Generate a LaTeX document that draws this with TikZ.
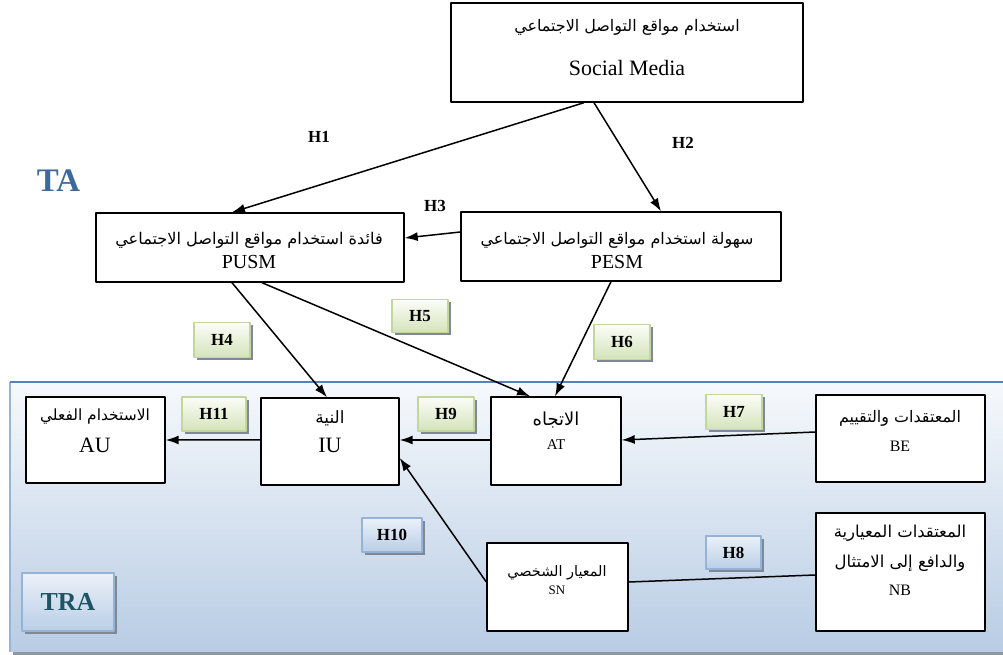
\documentclass[tikz,border=0pt]{standalone}
\usepackage{fontspec}
\setmainfont{Liberation Serif}
\newfontfamily\arabicfont[Script=Arabic]{DejaVu Sans}
\TeXXeTstate=1
\usetikzlibrary{arrows.meta,shadows}

\definecolor{taBlue}{RGB}{62,106,155}
\definecolor{traTeal}{RGB}{30,85,100}
\definecolor{traTop}{RGB}{246,249,252}
\definecolor{traBot}{RGB}{184,204,228}
\definecolor{traLine}{RGB}{84,130,185}
\definecolor{traLeft}{RGB}{150,180,215}
\definecolor{traShadow}{RGB}{140,150,165}
\definecolor{tagGreenTop}{RGB}{252,253,248}
\definecolor{tagGreenBot}{RGB}{212,227,186}
\definecolor{tagGreenLine}{RGB}{196,215,155}
\definecolor{tagBlueTop}{RGB}{235,241,249}
\definecolor{tagBlueBot}{RGB}{186,206,230}
\definecolor{tagBlueLine}{RGB}{149,179,215}
\definecolor{tagShadow}{RGB}{128,136,148}

\newcommand{\artext}[1]{\beginR#1\endR}

\tikzset{
  box/.style={draw=black, fill=white, line width=1.4bp, inner sep=0pt},
  artxt/.style={inner sep=0pt, font=\arabicfont\fontsize{#1}{#1}\selectfont},
  lattxt/.style={inner sep=0pt, font=\fontsize{#1}{#1}\selectfont},
  hyp/.style={inner sep=0pt, font=\bfseries\fontsize{17}{17}\selectfont},
  greentag/.style={hyp, draw=tagGreenLine, line width=1.2bp,
    top color=tagGreenTop, bottom color=tagGreenBot,
    drop shadow={shadow xshift=3bp, shadow yshift=-3bp, fill=tagShadow, opacity=1}},
  bluetag/.style={hyp, draw=tagBlueLine, line width=1.2bp,
    top color=tagBlueTop, bottom color=tagBlueBot,
    drop shadow={shadow xshift=3bp, shadow yshift=-3bp, fill=tagShadow, opacity=1}},
}

\begin{document}
\begin{tikzpicture}[>={Latex[length=13bp,width=9bp]},line join=bevel,]
  \pgfsetlinewidth{1.5bp}
  \useasboundingbox (0bp,0bp) rectangle (1003bp,655bp);
%%
  % Region: TRA
  \fill[traShadow] (13bp,0bp) rectangle (1003bp,3bp);
  \shade[top color=traTop, bottom color=traBot] (10bp,3bp) rectangle (1003bp,273bp);
  \draw[traLeft, line width=1.5bp] (10bp,3bp) -- (10bp,273bp);
  \draw[traLine, line width=1.5bp] (10bp,273bp) -- (1003bp,273bp);
  \node[bluetag, minimum width=92bp, minimum height=58bp,
    font=\bfseries\fontsize{26}{26}\selectfont, text=traTeal] (tra) at (68bp,53bp) {TRA};
  % Label: TA
  \node[inner sep=0pt, font=\bfseries\fontsize{33}{33}\selectfont, text=taBlue] (ta) at (58.5bp,474.5bp) {TA};
%
  % Node: sm
  \node[box, minimum width=352bp, minimum height=99bp] (sm) at (627bp,602.5bp) {};
  \node[artxt=16] (smar) at (627bp,628bp) {\artext{استخدام مواقع التواصل الاجتماعي}};
  \node[lattxt=22] (smlt) at (627bp,587bp) {Social Media};
  % Node: pusm
  \node[box, minimum width=308bp, minimum height=69bp] (pusm) at (250bp,407.5bp) {};
  \node[artxt=16.2] (pusmar) at (249bp,415bp) {\artext{فائدة استخدام مواقع التواصل الاجتماعي}};
  \node[lattxt=20] (pusmlt) at (249bp,393bp) {PUSM};
  % Node: pesm
  \node[box, minimum width=320bp, minimum height=69bp] (pesm) at (621bp,408.5bp) {};
  \node[artxt=16] (pesmar) at (617bp,415bp) {\artext{سهولة استخدام مواقع التواصل الاجتماعي}};
  \node[lattxt=20] (pesmlt) at (617bp,393bp) {PESM};
  % Node: au
  \node[box, minimum width=139bp, minimum height=86bp] (au) at (95.5bp,215bp) {};
  \node[artxt=15.5] (auar) at (95bp,238bp) {\artext{الاستخدام الفعلي}};
  \node[lattxt=22] (ault) at (95bp,210bp) {AU};
  % Node: iu
  \node[box, minimum width=138bp, minimum height=87bp] (iu) at (330bp,213.5bp) {};
  \node[artxt=17] (iuar) at (330bp,237bp) {\artext{النية}};
  \node[lattxt=22] (iult) at (330bp,210bp) {IU};
  % Node: at
  \node[box, minimum width=130bp, minimum height=88bp] (at) at (556bp,214bp) {};
  \node[artxt=18] (atar) at (556bp,235bp) {\artext{الاتجاه}};
  \node[lattxt=15] (atlt) at (556bp,210bp) {AT};
  % Node: be
  \node[box, minimum width=169bp, minimum height=87bp] (be) at (900.5bp,216.5bp) {};
  \node[artxt=16] (bear) at (900bp,237bp) {\artext{المعتقدات والتقييم}};
  \node[lattxt=16] (belt) at (900bp,209bp) {BE};
  % Node: sn
  \node[box, minimum width=141bp, minimum height=88bp] (sn) at (557.5bp,68bp) {};
  \node[artxt=14.5] (snar) at (557bp,82bp) {\artext{المعيار الشخصي}};
  \node[lattxt=13] (snlt) at (557bp,65bp) {SN};
  % Node: nb
  \node[box, minimum width=169bp, minimum height=118bp] (nb) at (900.5bp,83bp) {};
  \node[artxt=16.5] (nbar1) at (900bp,122bp) {\artext{المعتقدات المعيارية}};
  \node[artxt=16.5] (nbar2) at (900bp,92bp) {\artext{والدافع إلى الامتثال}};
  \node[lattxt=16] (nblt) at (900bp,65bp) {NB};
%
  % Labels: hypotheses
  \node[hyp] (h1) at (319bp,518bp) {H1};
  \node[hyp] (h2) at (683bp,512bp) {H2};
  \node[hyp] (h3) at (435bp,449bp) {H3};
  \node[greentag, minimum width=56bp, minimum height=35bp] (h4) at (222bp,315bp) {H4};
  \node[greentag, minimum width=56bp, minimum height=33bp] (h5) at (420bp,339bp) {H5};
  \node[greentag, minimum width=56bp, minimum height=35bp] (h6) at (622bp,313bp) {H6};
  \node[greentag, minimum width=56bp, minimum height=35bp] (h7) at (734bp,243bp) {H7};
  \node[greentag, minimum width=56bp, minimum height=34bp] (h9) at (446bp,241bp) {H9};
  \node[greentag, minimum width=64bp, minimum height=34bp] (h11) at (214bp,241bp) {H11};
  \node[bluetag, minimum width=60bp, minimum height=34bp] (h10) at (392bp,120bp) {H10};
  \node[bluetag, minimum width=55bp, minimum height=33bp] (h8) at (733.5bp,102.5bp) {H8};
%
  % Edge: sm -> pusm
  \draw [->] ([xshift=-43bp]sm.south) -- ([xshift=-18bp]pusm.north);
  % Edge: sm -> pesm
  \draw [->] ([xshift=-33bp]sm.south) -- ([xshift=40bp]pesm.north);
  % Edge: pesm -> pusm
  \draw [->] ([yshift=14.5bp]pesm.west) -- ([yshift=9.5bp]pusm.east);
  % Edge: pusm -> iu
  \draw [->] ([xshift=-18bp]pusm.south) -- ([xshift=-3bp]iu.north);
  % Edge: pusm -> at
  \draw [->] ([xshift=12bp]pusm.south) -- ([xshift=-26bp]at.north);
  % Edge: pesm -> at
  \draw [->] ([xshift=-10bp]pesm.south) -- ([xshift=-1bp]at.north);
  % Edge: be -> at
  \draw [->] ([yshift=6.5bp]be.west) -- ([yshift=1bp]at.east);
  % Edge: at -> iu
  \draw [->] ([yshift=1bp]at.west) -- ([yshift=1.5bp]iu.east);
  % Edge: iu -> au
  \draw [->] ([yshift=1.5bp]iu.west) -- (au.east);
  % Edge: sn -> iu
  \draw [->] ([yshift=5bp]sn.west) -- ([yshift=-16.5bp]iu.east);
  % Edge: nb -- sn
  \draw ([yshift=-3bp]nb.west) -- ([yshift=5bp]sn.east);
%
\end{tikzpicture}
\end{document}
